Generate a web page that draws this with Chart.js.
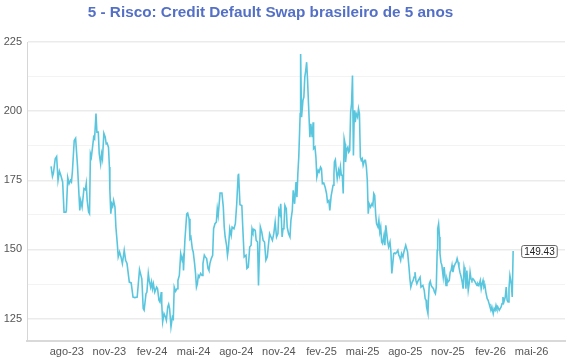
<!DOCTYPE html>
<html>
<head>
<meta charset="utf-8">
<script src="https://cdn.jsdelivr.net/npm/chart.js@4.4.1/dist/chart.umd.min.js"></script>
<style>
  html, body { margin: 0; padding: 0; background: #fff; }
</style>
</head>
<body>
<canvas id="cdsChart" width="570" height="360"></canvas>
<script>
const chartTitle = '5 - Risco: Credit Default Swap brasileiro de 5 anos';

// x = days counted from baseDate
const baseDate = '2023-08-01';

const dayOffsets = [
  -34, -31, -29, -25, -22, -19, -16, -13, -9, -6, -2, -1, 2, 5, 8, 10, 12, 16, 19, 23,
  28, 30, 33, 37, 40, 42, 44, 47, 49, 51, 53, 56, 58, 60, 63, 65, 68, 70, 73, 75,
  77, 80, 83, 85, 87, 90, 92, 93, 95, 97, 99, 101, 104, 106, 109, 111, 114, 117, 120, 124,
  127, 130, 135, 139, 143, 147, 152, 157, 162,
  165, 167, 171, 173, 176, 178, 181, 183, 185, 187, 190, 194, 196, 199, 201, 204, 205, 207, 210, 213,
  215, 218, 220, 222, 225, 228, 230, 232, 235, 238, 240, 243, 246, 249, 251, 252, 255, 259, 261, 264,
  266, 268, 271, 273, 276, 278, 280, 282, 284, 286, 289, 292, 294, 297, 299, 302, 305, 307, 309, 312,
  315, 317, 320, 323, 325, 327, 331, 335, 338, 340, 342, 345, 347, 349, 352, 355, 357, 361, 364, 367,
  370, 371, 374,
  378, 380, 383, 387, 389, 392, 395, 398, 400, 402, 404, 407, 409, 412, 414, 416, 418, 421, 424, 427,
  430, 433, 435, 438, 441, 444, 447, 450, 453, 456, 458, 460, 462, 465, 467, 469, 471, 474, 476, 479,
  482, 484, 487, 489, 492, 495, 497, 499, 501, 504, 505, 507, 510, 512, 514, 516, 518, 520, 522, 525,
  527, 530, 532, 533, 536, 538, 540, 543, 545, 548, 550, 552, 555, 558, 561, 563, 566, 568, 571, 573,
  575, 577, 578, 580,
  582, 584, 587, 589, 591, 593, 595, 597, 599, 601, 602, 605, 607, 609, 611, 613, 615, 617, 619, 621,
  623, 625, 628, 630, 632, 634, 636, 638, 640, 643, 645, 647, 649, 651, 653, 656, 659, 661, 663, 665,
  667, 669, 672, 674, 676, 678, 680, 682, 685, 687, 689, 691, 693, 695, 698, 700, 702, 704, 706, 708,
  710, 713, 715, 717, 719, 721, 723, 726, 728, 730, 732, 734, 736, 739, 741, 743, 746, 748, 750, 752,
  754, 756, 759, 761, 763, 765, 767, 769, 772,
  774, 776, 777, 780, 781, 783, 785, 787, 789, 792, 794, 796, 798, 800, 801, 803, 805, 806, 808, 810,
  813, 815, 817, 819, 821, 823, 826, 828, 830, 832, 834, 836, 839, 841, 843, 845, 847, 849, 851, 854,
  856, 858, 860, 862, 864, 867, 869, 871, 873, 875, 877, 880, 882, 884, 886, 888, 890, 893, 895, 897,
  899, 901, 903, 905, 908, 910, 912, 914, 916, 918, 921, 923, 925, 927, 929, 931, 934, 936, 938, 940,
  942, 944, 947, 949, 951, 953, 955, 957, 960, 962, 964
];

const cdsValues = [
  180.0, 176.4, 177.5, 182.8, 183.6, 175.0, 178.3, 176.8, 174.4, 163.5, 163.5, 164.1, 176.0, 173.8, 175.0, 174.4, 178.0, 189.4, 190.2, 180.4,
  164.1, 167.7, 165.3, 172.0, 171.6, 173.8, 167.7, 163.5, 162.9, 184.6, 183.4, 187.6, 190.6, 190.0, 199.1, 192.4, 192.4, 184.6, 181.0, 184.6,
  182.8, 192.0, 190.6, 188.2, 188.4, 187.0, 179.8, 171.4, 162.9, 166.5, 165.6, 167.7, 165.3, 158.1, 152.1, 147.3, 149.1, 147.3, 144.9, 149.7,
  146.1, 144.9, 138.2, 137.9, 132.8, 132.6, 132.8, 142.7, 139.4,
  128.6, 128.0, 134.0, 134.6, 141.3, 138.8, 136.4, 138.2, 135.8, 137.6, 134.6, 136.4, 135.8, 131.6, 131.0, 134.6, 130.4, 123.8, 126.8, 125.6,
  124.4, 129.2, 130.2, 128.6, 122.0, 125.6, 125.0, 136.4, 134.9, 135.8, 138.8, 140.6, 148.5, 146.1, 147.3, 142.4, 153.3, 162.9, 163.2, 161.1,
  153.9, 154.5, 150.3, 149.1, 144.9, 141.3, 136.4, 137.6, 140.6, 140.0, 141.3, 140.6, 144.9, 147.9, 147.3, 146.7, 143.1, 142.4, 144.9, 146.7,
  147.9, 157.5, 159.3, 159.9, 164.7, 162.3, 170.4, 170.4, 165.3, 158.1, 154.5, 151.5, 147.9, 150.3, 157.5, 155.1, 158.1, 157.5, 159.3, 166.5,
  176.8, 177.4, 166.2,
  165.9, 158.1, 147.3, 147.9, 143.1, 143.6, 150.9, 151.5, 157.5, 156.3, 157.3, 156.9, 153.3, 152.7, 137.0, 148.5, 158.1, 156.3, 153.3, 152.7,
  146.1, 147.3, 150.9, 155.7, 154.5, 153.3, 155.7, 159.9, 154.5, 155.7, 164.1, 162.9, 166.5, 154.5, 157.5, 158.1, 165.9, 164.7, 158.1, 155.7,
  154.5, 160.5, 164.1, 171.4, 166.5, 174.4, 168.9, 177.4, 183.4, 199.1, 220.7, 197.8, 203.9, 205.1, 212.3, 214.7, 217.7, 211.1, 202.7, 190.6,
  195.4, 190.6, 196.0, 186.4, 187.0, 183.4, 176.2, 178.6, 178.0, 179.8, 179.2, 173.8, 174.0, 172.5, 170.2, 167.1, 167.7, 164.1, 169.5, 171.3,
  173.2, 177.4, 181.6, 182.4,
  178.6, 175.6, 178.6, 176.8, 179.8, 176.8, 176.8, 170.2, 190.0, 188.2, 181.6, 186.4, 187.0, 185.2, 185.8, 199.6, 202.7, 212.9, 184.0, 200.3,
  196.0, 199.1, 197.8, 200.9, 199.1, 183.4, 182.2, 182.8, 180.4, 182.2, 182.2, 179.8, 175.0, 162.9, 166.5, 165.3, 166.5, 165.9, 170.2, 169.5,
  162.9, 159.3, 158.1, 160.5, 156.3, 158.1, 152.7, 152.1, 155.1, 151.5, 158.7, 155.7, 152.7, 150.9, 152.7, 149.1, 141.3, 144.9, 148.5, 148.7,
  148.5, 149.1, 149.7, 147.9, 147.3, 146.1, 148.5, 147.3, 149.1, 150.3, 151.5, 150.3, 149.1, 143.6, 139.4, 136.4, 138.2, 138.8, 140.0, 141.8,
  138.8, 137.6, 138.8, 139.4, 140.0, 136.4, 136.4, 137.0, 135.2,
  132.2, 131.6, 129.2, 126.8, 131.6, 137.6, 138.5, 137.0, 136.4, 135.8, 134.6, 134.0, 136.4, 149.7, 157.5, 159.3, 154.5, 148.5, 145.4, 144.3,
  140.0, 143.6, 140.0, 137.0, 139.4, 138.2, 138.8, 141.8, 142.4, 144.3, 141.8, 143.6, 144.9, 145.4, 146.7, 145.4, 143.6, 141.8, 140.6, 138.2,
  135.8, 143.6, 141.8, 135.8, 142.4, 135.2, 137.6, 141.8, 139.4, 138.8, 139.4, 138.8, 138.2, 137.6, 137.0, 137.6, 137.0, 138.8, 135.8, 137.6,
  138.8, 136.4, 137.0, 134.6, 132.2, 131.6, 130.4, 129.2, 128.0, 129.2, 126.8, 128.6, 128.0, 129.8, 128.6, 129.2, 128.0, 128.6, 129.2, 130.4,
  132.8, 131.0, 132.8, 136.4, 131.6, 131.0, 135.8, 140.6, 137.6, 132.8, 149.43
];

const tickDates = ['2023-08-01', '2023-11-01', '2024-02-01', '2024-05-01', '2024-08-01', '2024-11-01',
  '2025-02-01', '2025-05-01', '2025-08-01', '2025-11-01', '2026-02-01', '2026-05-01'];
const tickLabels = ['ago-23', 'nov-23', 'fev-24', 'mai-24', 'ago-24', 'nov-24',
  'fev-25', 'mai-25', 'ago-25', 'nov-25', 'fev-26', 'mai-26'];

const yTicks = [125, 137.5, 150, 162.5, 175, 187.5, 200, 212.5, 225];
const yLabels = ['125', '', '150', '', '175', '', '200', '', '225'];

if (dayOffsets.length !== cdsValues.length) {
  throw new Error('length mismatch ' + dayOffsets.length + ' vs ' + cdsValues.length);
}

const DAY = 86400000;
const daysFrom = (iso) => Math.round((Date.parse(iso) - Date.parse(baseDate)) / DAY);
const tickDays = tickDates.map(daysFrom);

const FONT = '"Liberation Sans", Arial, Helvetica, sans-serif';
Chart.defaults.font.family = FONT;

const overlay = {
  id: 'overlay',
  afterDraw(chart) {
    const { ctx, scales } = chart;
    ctx.save();
    // title
    ctx.font = 'bold 15.3px ' + FONT;
    ctx.fillStyle = '#5470c6';
    ctx.textAlign = 'center';
    ctx.textBaseline = 'alphabetic';
    ctx.fillText(chartTitle, 270.5, 17);

    // last value label
    const last = cdsValues.length - 1;
    const px = scales.x.getPixelForValue(dayOffsets[last]);
    const py = scales.y.getPixelForValue(cdsValues[last]);
    const text = cdsValues[last].toFixed(2);
    ctx.font = '10px ' + FONT;
    const w = ctx.measureText(text).width;
    const bx = px + 8;
    const bw = w + 5;
    const bh = 12;
    const by = py - bh / 2 + 0.5;
    ctx.beginPath();
    ctx.roundRect(bx + 0.5, by, bw, bh, 2);
    ctx.fillStyle = '#fff';
    ctx.fill();
    ctx.strokeStyle = '#666';
    ctx.lineWidth = 1;
    ctx.stroke();
    ctx.fillStyle = '#222';
    ctx.textAlign = 'left';
    ctx.textBaseline = 'middle';
    ctx.fillText(text, bx + 3, by + bh / 2 + 0.5);
    ctx.restore();
  }
};

const cdsChart = new Chart('cdsChart', {
  type: 'line',
  data: {
    datasets: [
      {
        data: dayOffsets.map((d, i) => ({ x: d, y: cdsValues[i] })),
        borderColor: '#5ac6de',
        borderWidth: 1.6,
        pointRadius: 0,
        fill: false,
        tension: 0,
      },
    ],
  },
  options: {
    responsive: false,
    animation: false,
    devicePixelRatio: 1,
    layout: { padding: { top: 42, right: 5, left: 0, bottom: 0 } },
    plugins: {
      legend: { display: false },
      tooltip: { enabled: false },
    },
    scales: {
      x: {
        type: 'linear',
        min: -86,
        max: 1076,
        afterBuildTicks: (scale) => { scale.ticks = tickDays.map((v) => ({ value: v })); },
        afterFit: (scale) => { scale.height = 19; },
        ticks: {
          autoSkip: false,
          maxRotation: 0,
          padding: 4,
          color: '#555',
          font: { size: 11 },
          callback: (v, i) => tickLabels[i],
        },
        grid: { display: false, drawTicks: false },
        border: { display: true, color: '#d9d9d9', width: 2 },
      },
      y: {
        min: 116.9,
        max: 225,
        afterBuildTicks: (scale) => { scale.ticks = yTicks.map((v) => ({ value: v })); },
        afterFit: (scale) => { scale.width = 27; },
        ticks: {
          padding: 5,
          color: '#555',
          font: { size: 11 },
          callback: (v, i) => yLabels[i],
        },
        grid: {
          drawTicks: false,
          color: (c) => (yLabels[c.index] ? '#ebebeb' : '#f3f3f3'),
          lineWidth: (c) => (yLabels[c.index] ? 1.5 : 1),
        },
        border: { display: true, color: '#d6d6d6', width: 1 },
      },
    },
  },
  plugins: [overlay],
});
</script>
</body>
</html>
